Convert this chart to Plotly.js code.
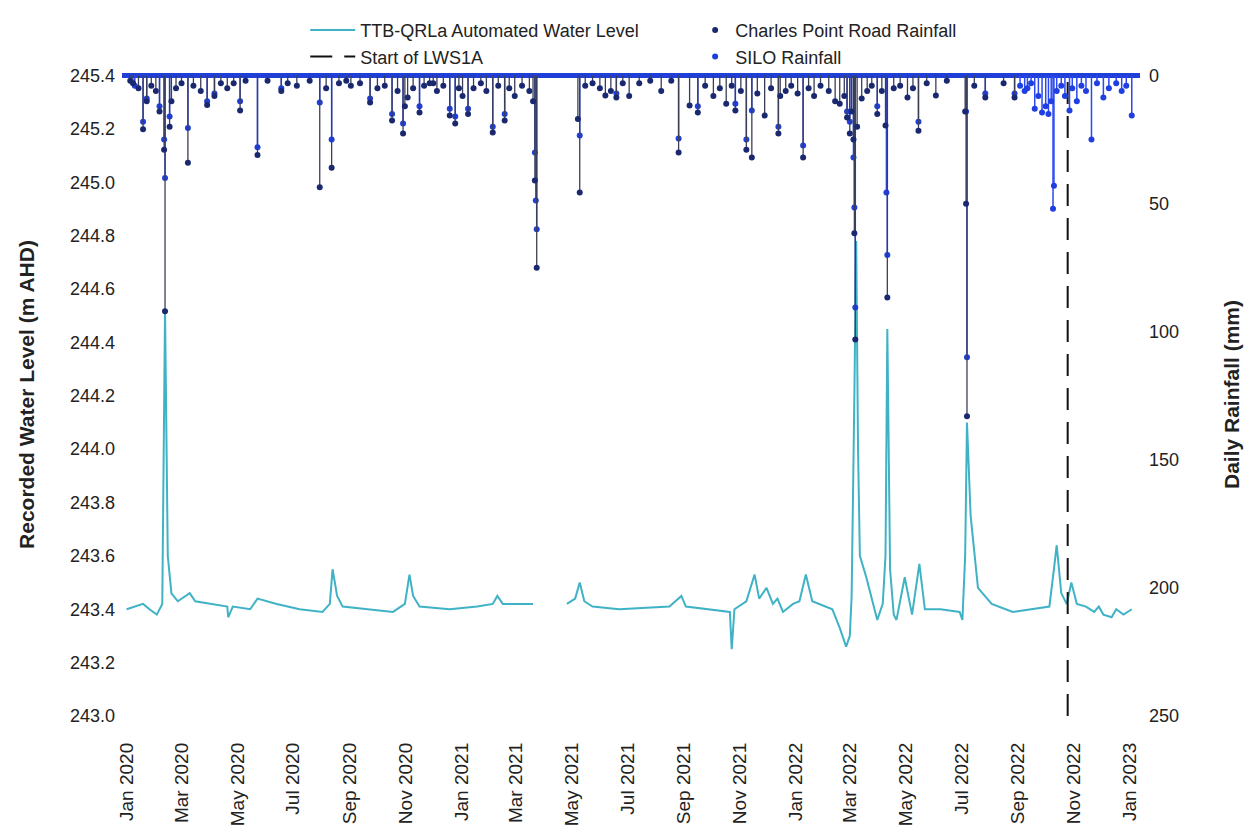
<!DOCTYPE html>
<html>
<head>
<meta charset="utf-8">
<script src="https://cdn.plot.ly/plotly-3.0.1.min.js"></script>
<style>html,body{margin:0;padding:0;background:#fff;}#chart{width:1259px;height:837px;}</style>
</head>
<body>
<div id="chart"></div>
<script>
// ---- Water level (m AHD), TTB-QRLa logger ----
const wlDates = [
 '2020-01-01','2020-01-10','2020-01-19','2020-01-26','2020-02-03','2020-02-09','2020-02-12','2020-02-15','2020-02-19','2020-02-26',
 '2020-03-10','2020-03-16','2020-04-01','2020-04-20','2020-04-21','2020-04-26','2020-05-15','2020-05-23','2020-06-13','2020-07-08',
 '2020-08-02','2020-08-10','2020-08-13','2020-08-18','2020-08-24','2020-09-23','2020-10-18','2020-10-31','2020-11-05','2020-11-09',
 '2020-11-16','2020-12-19','2021-01-18','2021-02-04','2021-02-09','2021-02-15','2021-03-05','2021-03-20','2021-04-10',
 '2021-04-26','2021-05-05','2021-05-10','2021-05-15','2021-05-24','2021-06-22','2021-08-16','2021-08-29','2021-09-03','2021-09-29',
 '2021-10-21','2021-10-23','2021-10-26','2021-11-08','2021-11-17','2021-11-22','2021-11-30','2021-12-07','2021-12-12','2021-12-18',
 '2021-12-29','2022-01-05','2022-01-12','2022-01-19','2022-01-27','2022-02-10','2022-02-18','2022-02-25','2022-03-01','2022-03-03',
 '2022-03-06','2022-03-08','2022-03-10','2022-03-12','2022-03-19','2022-03-31','2022-04-06','2022-04-09','2022-04-11','2022-04-14',
 '2022-04-18','2022-04-21','2022-04-30','2022-05-08','2022-05-16','2022-05-22','2022-06-08','2022-06-29','2022-07-02','2022-07-05',
 '2022-07-07','2022-07-11','2022-07-19','2022-08-03','2022-08-26','2022-09-14','2022-10-05','2022-10-10','2022-10-13','2022-10-18',
 '2022-10-24','2022-10-29','2022-11-04','2022-11-14','2022-11-23','2022-11-28','2022-12-03','2022-12-12','2022-12-17','2022-12-25',
 '2023-01-03'
];
const wlLevels = [
 243.40,243.41,243.42,243.40,243.38,243.42,244.52,243.60,243.46,243.43,
 243.46,243.43,243.42,243.41,243.37,243.41,243.40,243.44,243.42,243.40,
 243.39,243.42,243.55,243.45,243.41,243.40,243.39,243.42,243.53,243.45,
 243.41,243.40,243.41,243.42,243.45,243.42,243.42,243.42,null,
 243.42,243.44,243.50,243.43,243.41,243.40,243.41,243.45,243.41,243.40,
 243.39,243.25,243.40,243.43,243.53,243.44,243.48,243.42,243.44,243.39,
 243.42,243.43,243.53,243.43,243.42,243.40,243.33,243.26,243.30,243.45,
 244.20,244.78,244.00,243.60,243.52,243.36,243.42,243.60,244.45,243.55,
 243.38,243.36,243.52,243.38,243.57,243.40,243.40,243.39,243.36,243.60,
 244.10,243.75,243.48,243.42,243.39,243.40,243.41,243.55,243.64,243.46,
 243.42,243.50,243.42,243.41,243.39,243.41,243.38,243.37,243.40,243.38,
 243.40
];

// ---- Start of LWS1A ----
const lwsDate = '2022-10-25';
const lwsSpan = [243.0, 245.4];

// ---- Charles Point Road daily rainfall (mm) ----
const cpDates = [
 '2020-01-05','2020-01-08','2020-01-14','2020-01-19','2020-01-23','2020-01-28','2020-02-02','2020-02-06','2020-02-11','2020-02-12','2020-02-17',
 '2020-02-19','2020-02-24','2020-03-01','2020-03-08','2020-03-14','2020-03-22','2020-03-29','2020-04-06','2020-04-13','2020-04-20',
 '2020-04-27','2020-05-04','2020-05-10','2020-05-23','2020-06-03','2020-06-18','2020-06-25','2020-07-05','2020-07-19','2020-07-30','2020-08-06',
 '2020-08-12','2020-08-20','2020-08-28','2020-09-02','2020-09-12','2020-09-23','2020-10-01','2020-10-09','2020-10-17','2020-10-23','2020-10-29',
 '2020-10-31','2020-11-03','2020-11-09','2020-11-16','2020-11-21','2020-11-27','2020-12-01','2020-12-05','2020-12-12','2020-12-19','2020-12-25',
 '2020-12-29','2021-01-02','2021-01-08','2021-01-14','2021-01-22','2021-01-28','2021-02-04','2021-02-10','2021-02-17','2021-02-22',
 '2021-02-28','2021-03-08','2021-03-16','2021-03-20','2021-03-22','2021-03-24','2021-05-08','2021-05-10','2021-05-16','2021-05-24',
 '2021-06-01','2021-06-07','2021-06-13','2021-06-19','2021-06-26','2021-07-03','2021-07-14','2021-07-26','2021-08-07','2021-08-18',
 '2021-08-26','2021-09-07','2021-09-16','2021-09-24','2021-10-03','2021-10-10','2021-10-17','2021-10-23','2021-10-27','2021-11-02',
 '2021-11-08','2021-11-14','2021-11-20','2021-11-28','2021-12-05','2021-12-13','2021-12-15','2021-12-21','2021-12-27','2022-01-03',
 '2022-01-09','2022-01-15','2022-01-21','2022-01-28','2022-02-06','2022-02-13','2022-02-18','2022-02-23','2022-02-26','2022-03-01',
 '2022-03-03','2022-03-05','2022-03-06','2022-03-07','2022-03-09','2022-03-14','2022-03-20','2022-03-25','2022-03-31','2022-04-05',
 '2022-04-09','2022-04-11','2022-04-18','2022-04-25','2022-05-03','2022-05-09','2022-05-15','2022-05-24','2022-06-03','2022-06-15',
 '2022-07-05','2022-07-06','2022-07-07','2022-07-15','2022-07-27','2022-08-16','2022-08-28'
];
const cpRain = [
 2,3,5,21,10,4,6,14,29,92,20,
 10,5,3,34,4,6,11.5,8,3,5,
 3,13.6,2,31,2,6,3,4,2,43.6,5,
 36,3,2,4,3,10.5,5,4,17.5,6,22.6,
 12,8.6,5,14.4,4,3,3,6,4,15.6,18.7,
 5,8,15,5,3,6,22.2,4,17.5,5,
 8,4,6,10,41,75,17,45.6,4,3,
 5,7.8,6,8.6,3,8,3,2,6,2,
 30,11.7,14.4,4,8,5,11,4,13.6,6,
 29,32,7,15.6,5,22.6,8,6,4,7,
 32,5,8,4,6,10,11,8,16.4,22.6,
 14,25,61.6,103,20,9,6,4,15,6,
 19.5,86.6,5,4,8.6,5,21.5,3,7.8,2,
 14,50,133,4,8.6,3,8.6
];

// ---- SILO daily rainfall (mm) ----
const siloDates = [
 '2020-01-10','2020-01-19','2020-01-23','2020-02-06','2020-02-11','2020-02-12','2020-02-17','2020-03-08','2020-03-29','2020-04-06',
 '2020-05-04','2020-05-23','2020-06-18','2020-07-30','2020-08-12','2020-09-23','2020-10-17','2020-10-29','2020-11-16','2020-12-19',
 '2020-12-25','2021-01-08','2021-02-04','2021-02-17','2021-03-22','2021-03-23','2021-03-24','2021-05-10','2021-06-19','2021-08-26',
 '2021-09-16','2021-10-27','2021-11-08','2021-11-14','2021-12-13','2022-01-09','2022-02-26','2022-03-01','2022-03-05','2022-03-06',
 '2022-03-07','2022-03-31','2022-04-10','2022-04-11','2022-05-15','2022-07-06','2022-07-07','2022-07-27','2022-08-28','2022-09-03',
 '2022-09-08','2022-09-11','2022-09-15','2022-09-19','2022-09-23','2022-09-27','2022-10-01','2022-10-04','2022-10-07','2022-10-09',
 '2022-10-10','2022-10-13','2022-10-18','2022-10-22','2022-10-27','2022-10-30','2022-11-04','2022-11-09','2022-11-14','2022-11-20',
 '2022-11-26','2022-12-03','2022-12-09','2022-12-17','2022-12-23','2022-12-28','2023-01-03'
];
const siloRain = [
 4,18,9,12,25,40,16,20.5,10,7,
 10,28,5,10.5,25,9,15,18.7,12,13,
 16,13,20,15,30,48.8,60,23.4,7,24.6,
 12,11,25,13.6,20,27.3,14,18,32,51.5,
 90.5,12,45.6,70,18,14,110,7,7,4,
 6,5,3,13,8,14.4,12,15,10,52,
 43,6,4,8,13.6,5,10,4,6,25,
 3,8.6,5,3,6,4,15.6
];

const zeros = a => a.map(() => 0);

const traces = [
  {
    type: 'scatter', mode: 'lines', name: 'TTB-QRLa Automated Water Level',
    x: wlDates, y: wlLevels, connectgaps: false,
    line: {color: '#3fb2c6', width: 2}, legend: 'legend', xaxis: 'x', yaxis: 'y'
  },
  {
    type: 'scatter', mode: 'lines', name: 'Start of LWS1A',
    x: [lwsDate, lwsDate], y: lwsSpan,
    line: {color: '#111', width: 2, dash: '22px,12px'}, legend: 'legend', xaxis: 'x', yaxis: 'y'
  },
  {
    type: 'scatter', mode: 'markers', name: 'SILO Rainfall', legendrank: 2,
    x: siloDates, y: siloRain, yaxis: 'y2', legend: 'legend2',
    marker: {color: '#1f3fe0', size: 6},
    error_y: {type: 'data', symmetric: false, array: zeros(siloRain), arrayminus: siloRain, width: 0, thickness: 1.5, color: '#2a48f0'}
  },
  {
    type: 'scatter', mode: 'markers', name: 'Charles Point Road Rainfall', legendrank: 1,
    x: cpDates, y: cpRain, yaxis: 'y2', legend: 'legend2',
    marker: {color: '#1a2870', size: 6},
    error_y: {type: 'data', symmetric: false, array: zeros(cpRain), arrayminus: cpRain, width: 0, thickness: 1.3, color: '#3b3f55'}
  }
];

const fontFam = '"Liberation Sans", Arial, sans-serif';
const layout = {
  width: 1259, height: 837,
  margin: {l: 122, r: 119, t: 73, b: 121},
  paper_bgcolor: '#ffffff', plot_bgcolor: '#ffffff',
  font: {family: fontFam, color: '#222', size: 18},
  showlegend: true,
  xaxis: {
    type: 'date', range: ['2019-12-27', '2023-01-12'],
    tick0: '2020-01-01', dtick: 'M2', tickformat: '%b %Y', tickangle: -90,
    ticklabelstandoff: 22, tickfont: {size: 19, color: '#222'},
    showgrid: false, showline: false, zeroline: false, ticks: ''
  },
  yaxis: {
    range: [243.0, 245.4096], dtick: 0.2, tick0: 243.0, tickformat: '.1f',
    tickfont: {size: 18, color: '#222'}, ticklabelstandoff: 6,
    showgrid: false, showline: false, zeroline: false, ticks: '',
    title: {text: 'Recorded Water Level (m AHD)', font: {size: 21, weight: 700, color: '#222'}, standoff: 29}
  },
  yaxis2: {
    overlaying: 'y', side: 'right', range: [250, -1], tickvals: [0, 50, 100, 150, 200, 250],
    tickfont: {size: 18, color: '#222'}, ticklabelstandoff: 8,
    showgrid: false, showline: false, ticks: '',
    zeroline: true, zerolinecolor: '#1f3fd8', zerolinewidth: 5,
    title: {text: 'Daily Rainfall (mm)', font: {size: 21, weight: 700, color: '#222'}, standoff: 46}
  },
  legend: {
    x: 0.18, y: 1.095, xanchor: 'left', yanchor: 'top', orientation: 'v',
    bgcolor: 'rgba(0,0,0,0)', font: {size: 18, color: '#222'}, itemwidth: 45, tracegroupgap: 0
  },
  legend2: {
    x: 0.563, y: 1.095, xanchor: 'left', yanchor: 'top', orientation: 'v',
    bgcolor: 'rgba(0,0,0,0)', font: {size: 18, color: '#222'}, itemwidth: 30, tracegroupgap: 0
  }
};

Plotly.newPlot('chart', traces, layout, {displayModeBar: false, staticPlot: true});
</script>
</body>
</html>
